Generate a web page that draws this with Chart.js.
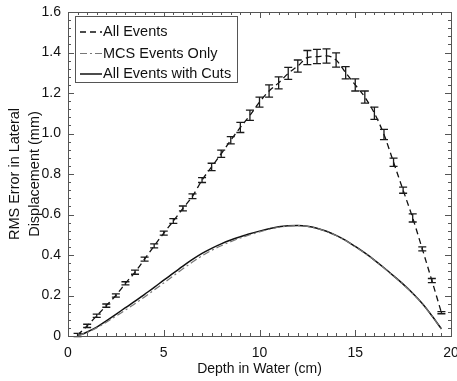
<!DOCTYPE html>
<html lang="en">
<head>
    <meta charset="UTF-8">
    <title>RMS Error in Lateral Displacement</title>
    <script src="https://cdn.jsdelivr.net/npm/chart.js"></script>
    <style>
        body {
            margin: 0;
            background: #fff;
        }
        .chart-container {
            width: 457px;
            height: 381px;
            position: relative;
        }
    </style>
</head>
<body>
    <div class="chart-container">
        <canvas id="rmsChart"></canvas>
    </div>

    <script>
        // Depth in water (cm)
        const depth = [0.5, 1.0, 1.5, 2.0, 2.5, 3.0, 3.5, 4.0, 4.5, 5.0,
                       5.5, 6.0, 6.5, 7.0, 7.5, 8.0, 8.5, 9.0, 9.5, 10.0,
                       10.5, 11.0, 11.5, 12.0, 12.5, 13.0, 13.5, 14.0, 14.5, 15.0,
                       15.5, 16.0, 16.5, 17.0, 17.5, 18.0, 18.5, 19.0, 19.5];

        // RMS error (mm)
        const allEvents = [0.005, 0.05, 0.10, 0.15, 0.20, 0.26, 0.315, 0.38, 0.445, 0.508,
                           0.568, 0.63, 0.69, 0.77, 0.835, 0.90, 0.967, 1.03, 1.09, 1.155,
                           1.21, 1.25, 1.297, 1.333, 1.375, 1.38, 1.383, 1.363, 1.30, 1.24,
                           1.18, 1.10, 0.995, 0.858, 0.72, 0.583, 0.43, 0.274, 0.115];
        const allEventsErr = [0.008, 0.008, 0.008, 0.008, 0.008, 0.008, 0.01, 0.01, 0.01, 0.01,
                              0.012, 0.012, 0.012, 0.012, 0.018, 0.018, 0.018, 0.025, 0.025, 0.025,
                              0.03, 0.03, 0.03, 0.03, 0.035, 0.035, 0.035, 0.035, 0.03, 0.03,
                              0.03, 0.03, 0.025, 0.02, 0.015, 0.02, 0.01, 0.01, 0.005];
        const mcsOnly = [0.0, 0.018, 0.04, 0.068, 0.098, 0.128, 0.16, 0.193, 0.227, 0.262,
                         0.297, 0.332, 0.365, 0.396, 0.423, 0.446, 0.466, 0.484, 0.50, 0.514,
                         0.527, 0.537, 0.543, 0.545, 0.541, 0.531, 0.516, 0.496, 0.471, 0.441,
                         0.409, 0.374, 0.336, 0.296, 0.255, 0.21, 0.159, 0.099, 0.034];
        const withCuts = [0.0, 0.02, 0.044, 0.075, 0.107, 0.14, 0.172, 0.206, 0.24, 0.276,
                          0.31, 0.345, 0.378, 0.408, 0.433, 0.455, 0.474, 0.49, 0.505, 0.518,
                          0.53, 0.54, 0.545, 0.546, 0.542, 0.532, 0.517, 0.497, 0.472, 0.442,
                          0.41, 0.375, 0.337, 0.297, 0.256, 0.211, 0.16, 0.10, 0.035];

        const seriesLabels = ['All Events', 'MCS Events Only', 'All Events with Cuts'];
        const seriesDash = [[6, 4], [7, 3, 2, 3], []];

        const pts = (ys) => depth.map((d, i) => ({ x: d, y: ys[i] }));

        // error bars, frame with inward ticks, legend box
        const framePlugin = {
            id: 'framePlugin',
            afterDatasetsDraw(chart) {
                const { ctx, chartArea: a, scales: { x, y } } = chart;
                ctx.save();

                // error bars on All Events
                ctx.strokeStyle = '#1a1a1a';
                ctx.lineWidth = 1.3;
                ctx.setLineDash([]);
                depth.forEach((d, i) => {
                    const px = x.getPixelForValue(d);
                    const top = y.getPixelForValue(allEvents[i] + allEventsErr[i]);
                    const bot = y.getPixelForValue(allEvents[i] - allEventsErr[i]);
                    ctx.beginPath();
                    ctx.moveTo(px, top); ctx.lineTo(px, bot);
                    ctx.moveTo(px - 4, top); ctx.lineTo(px + 4, top);
                    ctx.moveTo(px - 4, bot); ctx.lineTo(px + 4, bot);
                    ctx.stroke();
                });

                // box
                ctx.strokeStyle = '#555';
                ctx.lineWidth = 1;
                ctx.strokeRect(Math.round(a.left) + 0.5, Math.round(a.top) + 0.5,
                               Math.round(a.right - a.left), Math.round(a.bottom - a.top));

                // inward ticks on all sides
                ctx.beginPath();
                for (let v = 0; v <= 20.001; v += 0.5) {
                    const px = Math.round(x.getPixelForValue(v)) + 0.5;
                    const len = Math.abs(v % 5) < 0.01 ? 6 : 3;
                    ctx.moveTo(px, a.bottom); ctx.lineTo(px, a.bottom - len);
                    ctx.moveTo(px, a.top); ctx.lineTo(px, a.top + len);
                }
                for (let k = 0; k <= 40; k++) {
                    const v = k * 0.04;
                    const py = Math.round(y.getPixelForValue(v)) + 0.5;
                    const len = k % 5 === 0 ? 6 : 3;
                    ctx.moveTo(a.left, py); ctx.lineTo(a.left + len, py);
                    ctx.moveTo(a.right, py); ctx.lineTo(a.right - len, py);
                }
                ctx.stroke();

                // legend
                const lx = 75, ly = 16, lw = 162, lh = 66;
                ctx.fillStyle = '#fff';
                ctx.fillRect(lx, ly, lw, lh);
                ctx.strokeStyle = '#555';
                ctx.strokeRect(lx + 0.5, ly + 0.5, lw, lh);
                const rows = [32, 53.5, 74];
                ctx.font = '14.5px "Liberation Sans", Arial, sans-serif';
                ctx.textBaseline = 'middle';
                ctx.textAlign = 'left';
                chart.data.datasets.forEach((ds, i) => {
                    ctx.strokeStyle = ds.borderColor;
                    ctx.lineWidth = ds.borderWidth;
                    ctx.setLineDash(seriesDash[i]);
                    ctx.beginPath();
                    ctx.moveTo(80, rows[i]);
                    ctx.lineTo(102, rows[i]);
                    ctx.stroke();
                    ctx.setLineDash([]);
                    ctx.fillStyle = '#111';
                    ctx.fillText(seriesLabels[i], 103, rows[i]);
                });
                ctx.restore();
            }
        };

        const tickFont = { family: '"Liberation Sans", Arial, sans-serif', size: 14 };

        new Chart(document.getElementById('rmsChart'), {
            type: 'line',
            data: {
                datasets: [
                    { label: seriesLabels[0], data: pts(allEvents), borderColor: '#111', borderWidth: 1.3, borderDash: seriesDash[0] },
                    { label: seriesLabels[1], data: pts(mcsOnly), borderColor: '#777', borderWidth: 1.2, borderDash: seriesDash[1] },
                    { label: seriesLabels[2], data: pts(withCuts), borderColor: '#111', borderWidth: 1.5, borderDash: seriesDash[2] }
                ].map(ds => Object.assign(ds, { pointRadius: 0, fill: false, cubicInterpolationMode: 'monotone' }))
            },
            options: {
                responsive: true,
                maintainAspectRatio: false,
                animation: false,
                layout: { padding: { top: 12, right: 6, left: 0, bottom: 0 } },
                plugins: { legend: { display: false }, tooltip: { enabled: false } },
                scales: {
                    x: {
                        type: 'linear',
                        min: 0, max: 20,
                        ticks: { stepSize: 5, color: '#111', font: tickFont, padding: 9, maxRotation: 0 },
                        grid: { display: false, drawTicks: false },
                        border: { display: false },
                        title: { display: true, text: 'Depth in Water (cm)', color: '#111', font: tickFont, padding: { top: 0, bottom: 3 } },
                        afterFit(scale) { scale.height = 45; scale.paddingLeft = 0; scale.paddingRight = 0; }
                    },
                    y: {
                        min: 0, max: 1.6,
                        ticks: {
                            stepSize: 0.2, color: '#111', font: tickFont, padding: 7,
                            callback: v => v === 0 ? '0' : v.toFixed(1)
                        },
                        grid: { display: false, drawTicks: false },
                        border: { display: false },
                        title: {
                            display: true,
                            text: ['RMS Error in Lateral', 'Displacement (mm)'],
                            color: '#111',
                            font: { family: '"Liberation Sans", Arial, sans-serif', size: 14.5, lineHeight: 1.4 },
                            padding: { top: 5, bottom: 0 }
                        },
                        afterFit(scale) { scale.width = 68; scale.paddingTop = 0; scale.paddingBottom = 0; }
                    }
                }
            },
            plugins: [framePlugin]
        });
    </script>
</body>
</html>
